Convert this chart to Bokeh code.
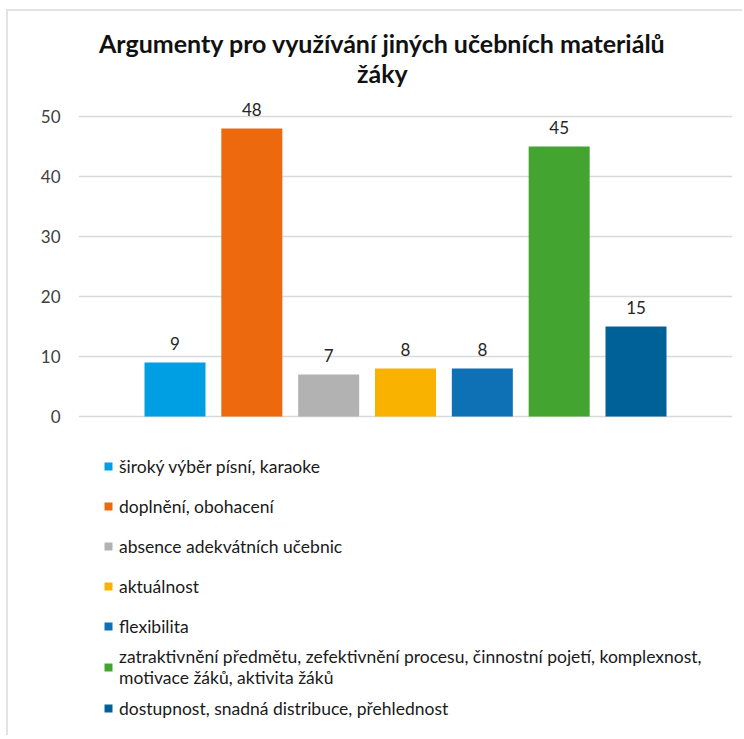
from bokeh.plotting import figure
from bokeh.models import Range1d, FixedTicker, Legend, LegendItem, Label, ColumnDataSource
from bokeh.core.properties import value
from bokeh.embed import file_html
from bokeh.resources import INLINE

title_text = "Argumenty pro využívání jiných učebních materiálů\nžáky"
categories = [
    "široký výběr písní, karaoke",
    "doplnění, obohacení",
    "absence adekvátních učebnic",
    "aktuálnost",
    "flexibilita",
    "zatraktivnění předmětu, zefektivnění procesu, činnostní pojetí, komplexnost,\nmotivace žáků, aktivita žáků",
    "dostupnost, snadná distribuce, přehlednost",
]
values = [9, 48, 7, 8, 8, 45, 15]
colors = ["#009FE3", "#EC6A0D", "#B2B2B2", "#F9B200", "#0F71B5", "#43A52F", "#006199"]
y_ticks = [0, 10, 20, 30, 40, 50]

FONT = "Lato"
xs = list(range(len(values)))

src = ColumnDataSource(dict(x=xs, top=values, color=colors, cat=categories,
                            lbl=[str(v) for v in values]))

p = figure(width=736, height=726, output_backend="svg", toolbar_location=None,
           x_range=Range1d(-1.256, 7.256), y_range=Range1d(-53.5, 67.5),
           x_axis_location=None,
           min_border_left=70, min_border_right=12, min_border_top=0, min_border_bottom=0)
p.outline_line_color = None
p.background_fill_color = "white"
p.border_fill_color = "white"

ticker = FixedTicker(ticks=y_ticks)
p.yaxis.ticker = ticker
p.yaxis.axis_line_color = None
p.yaxis.major_tick_line_color = None
p.yaxis.minor_tick_line_color = None
p.yaxis.major_tick_out = 0
p.yaxis.major_tick_in = 0
p.yaxis.major_label_text_font = FONT
p.yaxis.major_label_text_font_size = "17px"
p.yaxis.major_label_text_color = "#404040"
p.yaxis.major_label_standoff = 18
p.ygrid.ticker = ticker
p.ygrid.grid_line_color = "#d9d9d9"
p.ygrid.grid_line_width = 1.5
p.xgrid.visible = False

bars = p.vbar(x="x", top="top", bottom=0, width=0.794, fill_color="color",
              line_color=None, source=src)

p.text(x="x", y="top", text="lbl", source=src, text_align="center",
       text_baseline="middle", y_offset=-19, text_font=value(FONT),
       text_font_size="17px", text_color="#262626")

title = Label(x=2.70, y=64.75, text=title_text, text_align="center",
              text_baseline="top", text_font=FONT, text_font_size="25px",
              text_font_style="bold", text_color="#111111", text_line_height=1.0)
p.add_layout(title)

items = [LegendItem(label=c, renderers=[bars], index=i) for i, c in enumerate(categories)]
legend = Legend(items=items, location=(25, 9), padding=0, margin=0, spacing=0,
                label_height=40, glyph_width=10, glyph_height=10, label_standoff=6,
                border_line_color=None, background_fill_alpha=0,
                label_text_font=FONT, label_text_font_size="17.5px",
                label_text_line_height=1.05,
                label_text_color="#1a1a1a")
p.add_layout(legend)

p.margin = (9, 0, 0, 6)
p.styles = {"border-left": "2px solid #e3e3e3", "border-top": "2px solid #e3e3e3"}

open("out.html", "w").write(file_html(p, INLINE))
